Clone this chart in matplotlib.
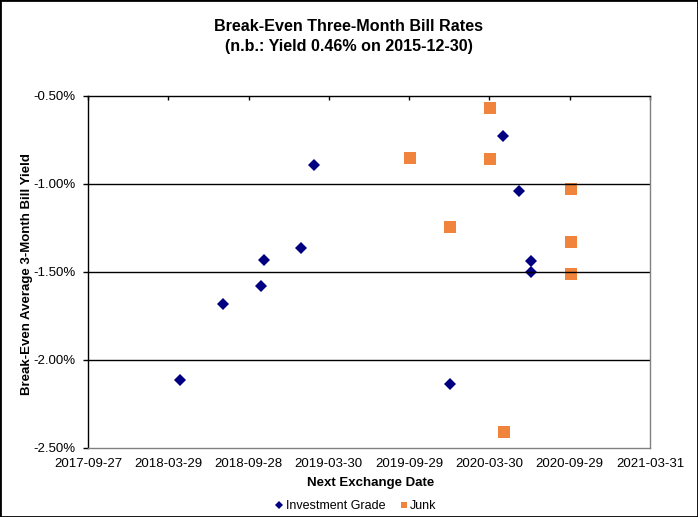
import matplotlib

matplotlib.use("Agg")
import matplotlib.dates as mdates
import matplotlib.pyplot as plt
from matplotlib.patches import Rectangle
from matplotlib.ticker import FuncFormatter
import numpy as np

plt.rcParams["font.family"] = ["Liberation Sans", "DejaVu Sans"]

# data
ig_dates = ["2018-04-25", "2018-07-31", "2018-10-26", "2018-11-02", "2019-01-26",
            "2019-02-24", "2020-01-01", "2020-04-29", "2020-06-05", "2020-07-02",
            "2020-07-02"]
ig_yield = [-2.114, -1.684, -1.581, -1.432, -1.365,
            -0.894, -2.136, -0.729, -1.042, -1.437,
            -1.498]

junk_dates = ["2019-10-01", "2020-01-01", "2020-04-01", "2020-04-01", "2020-05-03",
              "2020-10-02", "2020-10-02", "2020-10-02"]
junk_yield = [-0.852, -1.243, -0.566, -0.858, -2.409,
              -1.027, -1.328, -1.510]

x_start = "2017-09-27"
x_end = "2021-03-31"
tick_step_days = 183
y_ticks = [-2.5, -2.0, -1.5, -1.0, -0.5]


def to_num(dates):
    return mdates.datestr2num(dates)


fig = plt.figure(figsize=(6.98, 5.17), dpi=100)
ax = fig.add_axes([88 / 698, 69 / 517, 562 / 698, 352 / 517])

ax.plot(to_num(ig_dates), ig_yield, linestyle="none", marker="D", markersize=6.1,
        markeredgewidth=0, color="#000080", label="Investment Grade")
ax.plot(to_num(junk_dates), junk_yield, linestyle="none", marker="s", markersize=8,
        markeredgewidth=0, color="#F0843C", label="Junk")

x0 = mdates.datestr2num(x_start)
x1 = mdates.datestr2num(x_end)
ax.set_xlim(x0, x1)
ax.set_xticks(np.arange(x0, x1 + 1, tick_step_days))
ax.xaxis.set_major_formatter(mdates.DateFormatter("%Y-%m-%d"))
ax.set_ylim(-2.5, -0.5)
ax.set_yticks(y_ticks)
ax.yaxis.set_major_formatter(FuncFormatter(lambda v, _: f"{v:.2f}%"))

ax.tick_params(axis="x", top=True, bottom=False, labelbottom=True, direction="in",
               length=3, width=1, pad=7, labelsize=9.5)
ax.tick_params(axis="y", direction="out", length=3.5, width=1, pad=5.5, labelsize=9.5)

for v in [-2.0, -1.5, -1.0]:
    ax.axhline(v, color="black", linewidth=1)

ax.spines["left"].set_color("black")
ax.spines["top"].set_color("black")
ax.spines["right"].set_color("#808080")
ax.spines["bottom"].set_color("#808080")
for s in ax.spines.values():
    s.set_linewidth(1)

ax.set_xlabel("Next Exchange Date", fontsize=9.5, fontweight="bold")
ax.xaxis.set_label_coords((371 - 88) / 562, -(483 - 448) / 352)
ax.xaxis.label.set_va("center")
ax.set_ylabel("Break-Even Average 3-Month Bill Yield", fontsize=9.5, fontweight="bold")
ax.yaxis.set_label_coords(-(88 - 27) / 562, (448 - 274) / 352)
ax.yaxis.label.set_va("center")

fig.text(0.5, 1 - 27 / 517, "Break-Even Three-Month Bill Rates", ha="center",
         va="center", fontsize=11.6, fontweight="bold")
fig.text(0.5, 1 - 46 / 517, "(n.b.: Yield 0.46% on 2015-12-30)", ha="center",
         va="center", fontsize=11.6, fontweight="bold")

handles, labels = ax.get_legend_handles_labels()
leg = fig.legend(handles, labels, loc="center", bbox_to_anchor=(356 / 698, 1 - 506 / 517),
                 ncol=2, frameon=False, fontsize=9, handlelength=0.6,
                 handletextpad=0.2, columnspacing=1.2, markerscale=0.6,
                 borderpad=0, borderaxespad=0)

fig.patches.append(Rectangle((0, 0), 1, 1, transform=fig.transFigure, fill=False,
                             edgecolor="black", linewidth=2))

fig.savefig("out.png", dpi=100)
plt.close(fig)
